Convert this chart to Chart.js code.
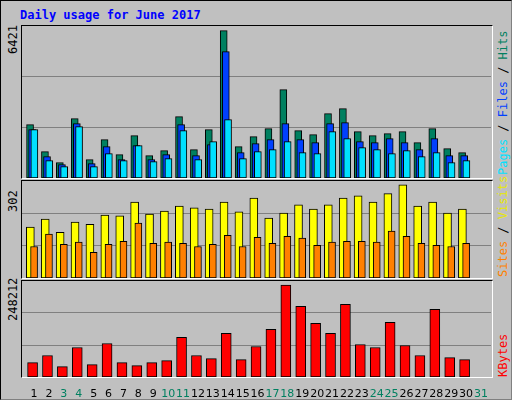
<!DOCTYPE html>
<html><head><meta charset="utf-8">
<script src="https://cdn.jsdelivr.net/npm/chart.js@4/dist/chart.umd.min.js"></script>
<style>
body{margin:0;background:#c0c0c0;}
#wrap{position:absolute;left:0;top:0;width:510px;height:398px;border:1px solid #000;border-right-color:#808080;border-bottom-color:#808080;background:#c0c0c0;overflow:hidden;font-family:"DejaVu Sans Mono",monospace;}
.panel{position:absolute;left:20px;width:470px;border-top:1px solid #000;border-left:1px solid #000;border-right:1px solid #fff;border-bottom:1px solid #fff;}
canvas{position:absolute;left:21px;}
.rot{position:absolute;transform:rotate(-90deg);transform-origin:left top;white-space:nowrap;font-size:12px;}
#title{position:absolute;left:19px;top:7px;color:#0000ff;font-weight:bold;font-size:12px;}
</style></head><body>
<div id="wrap">
<div id="title">Daily usage for June 2017</div>
<div class="panel" style="top:24px;height:152px"></div>
<div class="panel" style="top:179px;height:97px"></div>
<div class="panel" style="top:279px;height:96px"></div>
<canvas id="c1" style="top:25px;width:469px;height:152px"></canvas>
<canvas id="c2" style="top:180px;width:469px;height:97px"></canvas>
<canvas id="c3" style="top:280px;width:469px;height:116px"></canvas>
<div class="rot" style="left:5px;top:53px">6421</div>
<div class="rot" style="left:5px;top:211px">302</div>
<div class="rot" style="left:5px;top:320px">248212</div>
<div class="rot" style="left:495px;top:174px"><span style="color:#00e0ff">Pages</span> / <span style="color:#0040ff">Files</span> / <span style="color:#008060">Hits</span></div>
<div class="rot" style="left:495px;top:276px"><span style="color:#ff8000">Sites</span> / <span style="color:#e8e800">Visits</span></div>
<div class="rot" style="left:495px;top:376px"><span style="color:#ff0000">KBytes</span></div>
</div>
<script>
const days = Array.from({length:31},(_,i)=>i+1);
const weekends = [3,4,10,11,17,18,24,25,31];
const hits  = [2325,1148,668,2586,799,1671,1017,1845,973,1191,2673,1235,2107,6421,1366,1802,2150,3850,2063,1889,2804,3022,2020,1845,1932,2020,1540,2150,1279,1104];
const files = [2107,930,581,2368,625,1366,799,1409,799,1017,2325,973,1453,5507,1104,1497,1671,2368,1671,1540,2368,2412,1584,1540,1715,1540,1235,1715,973,973];
const pages = [2107,756,494,2238,494,1061,756,1409,712,843,2063,799,1584,2543,843,1148,1235,1584,1104,1061,2020,1715,1322,1235,1061,1191,930,1104,668,756];
const visits= [165,191,148,181,174,204,201,246,207,217,233,227,223,246,214,259,194,210,237,223,237,259,266,246,273,302,233,246,210,223];
const sites = [102,142,109,116,83,109,119,178,112,116,112,102,109,138,102,132,112,135,129,106,116,119,119,116,152,135,112,106,102,112];
const kbytes= [38958,57984,28086,79728,33522,90600,38958,30804,38958,44394,106908,57984,49830,117780,47112,82446,128652,248212,191166,144960,117780,196602,87882,79728,147678,85164,57984,183012,52548,47112];

const pts=(arr,off)=>arr.map((v,i)=>({x:days[i]+off,y:v}));
const ds=(arr,off,color,w)=>({data:pts(arr,off),backgroundColor:color,borderColor:'#000',borderWidth:1,borderSkipped:false,barThickness:w,grouped:false});
function make(id,datasets,ymax,showX){
  return new Chart(document.getElementById(id),{type:'bar',data:{datasets},
    options:{responsive:false,animation:false,maintainAspectRatio:false,
      layout:{padding:0},
      plugins:{legend:{display:false},tooltip:{enabled:false}},
      scales:{
        x:{type:'linear',min:0.19,max:31.67,display:showX,offset:false,
          grid:{display:false},border:{display:false},
          afterBuildTicks:s=>{s.ticks=days.map(d=>({value:d}));},
          afterFit:s=>{s.height=showX?20:0;},
          ticks:{autoSkip:false,maxRotation:0,padding:3,font:{family:'DejaVu Sans',size:11},
            color:c=>weekends.includes(c.tick.value)?'#008060':'#000',callback:v=>String(v)}},
        y:{min:0,max:ymax,display:true,
          afterBuildTicks:s=>{s.ticks=[{value:ymax/3},{value:2*ymax/3}];},
          afterFit:s=>{s.width=0;},
          grid:{color:'#808080',drawTicks:false},border:{display:false},
          ticks:{display:false}}
      }}});
}
function sized(id){const c=document.getElementById(id);c.width=parseInt(c.style.width);c.height=parseInt(c.style.height);}
['c1','c2','c3'].forEach(sized);
make('c1',[ds(pages,0.02,'#00e0ff',7),ds(files,-0.13,'#0040ff',7),ds(hits,-0.27,'#008060',7)],6620,false);
make('c2',[ds(sites,0,'#ff8000',7),ds(visits,-0.25,'#ffff00',8)],314,false);
make('c3',[ds(kbytes,-0.1,'#ff0000',10)],259400,true);
</script>
</body></html>
